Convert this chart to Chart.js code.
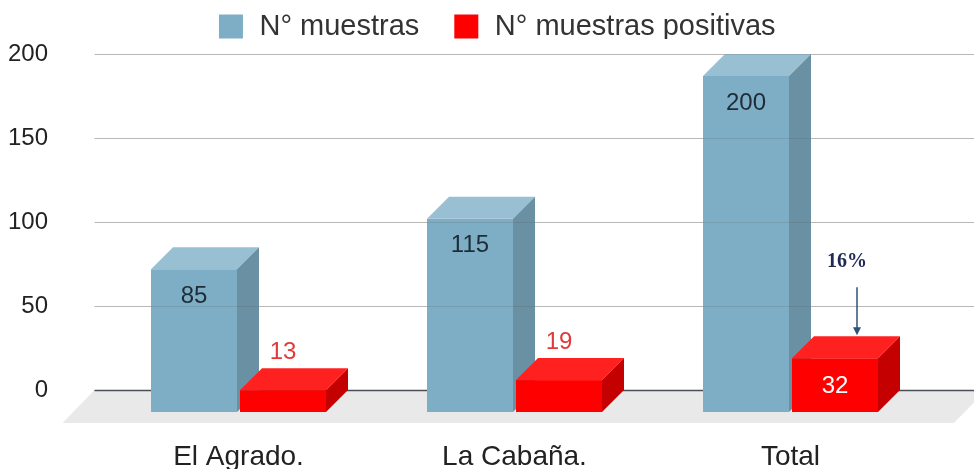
<!DOCTYPE html>
<html>
<head>
<meta charset="utf-8">
<script src="https://cdn.jsdelivr.net/npm/chart.js@4.4.1/dist/chart.umd.min.js"></script>
<style>
  html, body { margin: 0; padding: 0; background: #fff; }
  #wrap { width: 974px; height: 469px; }
</style>
</head>
<body>
<div id="wrap"><canvas id="myChart"></canvas></div>
<script>
// datos del grafico
const categories = ["El Agrado.", "La Cabaña.", "Total"];
const seriesNames = ["N° muestras", "N° muestras positivas"];
const muestras = [85, 115, 200];
const positivas = [13, 19, 32];
const yTicks = [0, 50, 100, 150, 200];

const DEPTH = 22; // profundidad del efecto 3D
const faces = [
    { front: "#7eaec5", top: "#98c0d2", side: "#6990a3", label: "#1d2c38" },
    { front: "#ff0000", top: "#ff2020", side: "#c40000", label: "#e2393b" }
];

// dibuja piso, lineas de grilla y barras 3D
const bars3d = {
    id: "bars3d",
    beforeInit(chart) {
        // alto fijo para la leyenda
        const fit = chart.legend.fit;
        chart.legend.fit = function () {
            fit.call(this);
            this.height = 54;
        };
    },
    afterLayout(chart) {
        const lg = chart.legend;
        lg.top = -21;
        lg.bottom = lg.top + 60;
        lg.left += 32;
        lg.right += 32;
    },
    beforeDatasetsDraw(chart) {
        const { ctx, chartArea, scales: { y } } = chart;
        const zero = y.getPixelForValue(0);
        const left = chartArea.left - 6;

        ctx.save();
        // piso
        ctx.fillStyle = "#e9e9e9";
        ctx.beginPath();
        ctx.moveTo(left, zero);
        ctx.lineTo(chart.width + 12, zero);
        ctx.lineTo(chart.width - 20, zero + 33);
        ctx.lineTo(left - 32, zero + 33);
        ctx.closePath();
        ctx.fill();

        // grilla
        yTicks.forEach(v => {
            const py = Math.round(y.getPixelForValue(v)) + 0.5;
            ctx.strokeStyle = v === 0 ? "#4a4f55" : "#cfcfcf";
            ctx.lineWidth = v === 0 ? 1.5 : 1;
            ctx.beginPath();
            ctx.moveTo(left, py);
            ctx.lineTo(chart.width, py);
            ctx.stroke();
        });

        // barras
        chart.data.datasets.forEach((ds, i) => {
            const f = faces[i];
            chart.getDatasetMeta(i).data.forEach(bar => {
                const x0 = bar.x - bar.width / 2;
                const x1 = bar.x + bar.width / 2;
                const top = bar.y, base = bar.base;

                ctx.fillStyle = f.front;
                ctx.fillRect(x0, top + DEPTH, x1 - x0, base - top);

                ctx.fillStyle = f.top;
                ctx.beginPath();
                ctx.moveTo(x0, top + DEPTH);
                ctx.lineTo(x1, top + DEPTH);
                ctx.lineTo(x1 + DEPTH, top);
                ctx.lineTo(x0 + DEPTH, top);
                ctx.closePath();
                ctx.fill();

                ctx.fillStyle = f.side;
                ctx.beginPath();
                ctx.moveTo(x1, top + DEPTH);
                ctx.lineTo(x1 + DEPTH, top);
                ctx.lineTo(x1 + DEPTH, base);
                ctx.lineTo(x1, base + DEPTH);
                ctx.closePath();
                ctx.fill();
            });
        });

        // grilla tenue sobre las barras
        ctx.globalAlpha = 0.18;
        yTicks.forEach(v => {
            if (v === 0) return;
            const py = Math.round(y.getPixelForValue(v)) + 0.5;
            ctx.strokeStyle = "#555";
            ctx.lineWidth = 1;
            ctx.beginPath();
            ctx.moveTo(left, py);
            ctx.lineTo(chart.width, py);
            ctx.stroke();
        });
        ctx.restore();
        return false;
    },
    afterDraw(chart) {
        const { ctx } = chart;
        ctx.save();
        ctx.textAlign = "center";
        ctx.textBaseline = "middle";
        ctx.font = "24px 'Liberation Sans', Arial, sans-serif";

        chart.data.datasets.forEach((ds, i) => {
            chart.getDatasetMeta(i).data.forEach((bar, j) => {
                const val = ds.data[j];
                const h = bar.base - bar.y;
                if (i === 0) {
                    ctx.fillStyle = faces[0].label;
                    ctx.fillText(val, bar.x, bar.y + DEPTH + 27);
                } else if (h > 40) {
                    ctx.fillStyle = "#ffffff";
                    ctx.fillText(val, bar.x, bar.y + DEPTH + 28);
                } else {
                    ctx.fillStyle = faces[1].label;
                    ctx.fillText(val, bar.x, bar.y - 16);
                }
            });
        });

        // porcentaje de positivas sobre el total
        const last = categories.length - 1;
        const bar = chart.getDatasetMeta(1).data[last];
        const ax = bar.x + DEPTH;
        const pct = Math.round(positivas[last] / muestras[last] * 100) + "%";
        ctx.fillStyle = "#1f2a55";
        ctx.font = "bold 20px 'Liberation Serif', 'Times New Roman', serif";
        ctx.fillText(pct, ax - 10, bar.y - 74);

        ctx.strokeStyle = "#2c5479";
        ctx.fillStyle = "#2c5479";
        ctx.lineWidth = 1.5;
        ctx.beginPath();
        ctx.moveTo(ax, bar.y - 49);
        ctx.lineTo(ax, bar.y - 8);
        ctx.stroke();
        ctx.beginPath();
        ctx.moveTo(ax - 4, bar.y - 9);
        ctx.lineTo(ax + 4, bar.y - 9);
        ctx.lineTo(ax, bar.y - 1);
        ctx.closePath();
        ctx.fill();
        ctx.restore();
    }
};

Chart.defaults.font.family = "'Liberation Sans', Arial, sans-serif";
Chart.defaults.color = "#333333";

const ctx = document.getElementById("myChart");
new Chart(ctx, {
    type: "bar",
    data: {
        labels: categories,
        datasets: [
            { label: seriesNames[0], data: muestras, backgroundColor: faces[0].front, borderWidth: 4, borderColor: "#ffffff" },
            { label: seriesNames[1], data: positivas, backgroundColor: faces[1].front, borderWidth: 4, borderColor: "#ffffff" }
        ]
    },
    options: {
        responsive: true,
        maintainAspectRatio: false,
        animation: false,
        layout: { padding: { left: 0, right: 45.5, top: 0, bottom: 0 } },
        categoryPercentage: 0.645,
        barPercentage: 0.966,
        scales: {
            x: {
                grid: { display: false, drawTicks: false },
                border: { display: false },
                ticks: { padding: 50, color: "#222", font: { size: 28 } },
                afterFit(scale) { scale.height = 79; }
            },
            y: {
                min: 0,
                max: 200,
                grid: { display: false, drawTicks: false },
                border: { display: false },
                ticks: { stepSize: 50, padding: 52.5, color: "#222", font: { size: 24 } },
                afterFit(scale) {
                    scale.width = 100.5;
                    scale.paddingTop = 14;
                    scale.paddingBottom = 14;
                }
            }
        },
        plugins: {
            legend: {
                display: true,
                labels: {
                    boxWidth: 28,
                    boxHeight: 28,
                    padding: 33,
                    color: "#333",
                    font: { size: 29 }
                }
            },
            tooltip: { enabled: false }
        }
    },
    plugins: [bars3d]
});
</script>
</body>
</html>
